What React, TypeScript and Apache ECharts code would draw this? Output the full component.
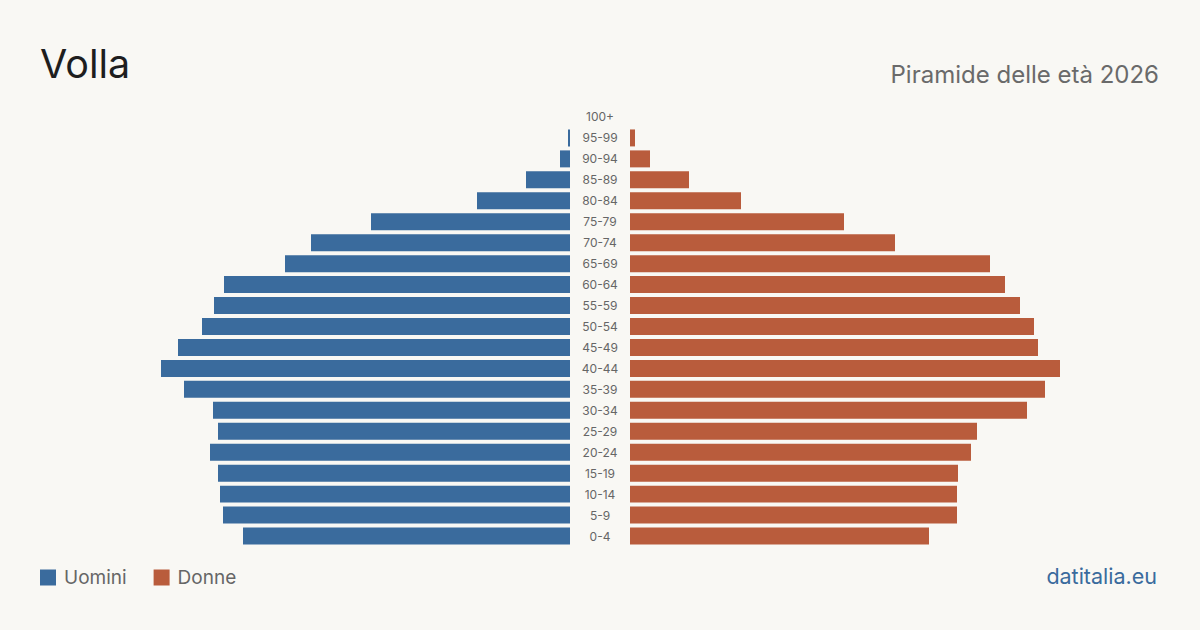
import React, { useEffect, useRef } from "react";
import * as echarts from "echarts";

// Age groups, oldest first (top of the pyramid)
const ageGroups = [
  "100+", "95-99", "90-94", "85-89", "80-84", "75-79", "70-74", "65-69",
  "60-64", "55-59", "50-54", "45-49", "40-44", "35-39", "30-34", "25-29",
  "20-24", "15-19", "10-14", "5-9", "0-4",
];

// Residents by age group
const uomini = [
  0, 4, 20, 88, 186, 398, 518, 570, 692, 712, 736, 784, 818, 772, 714, 704,
  720, 704, 700, 694, 654,
];
const donne = [
  0, 10, 40, 118, 222, 428, 530, 720, 750, 780, 808, 816, 860, 830, 794, 694,
  682, 656, 654, 654, 598,
];

const BLUE = "#3a6b9d";
const ORANGE = "#b95c3c";
const BG = "#f9f8f4";
const FONT = "Inter, 'Noto Sans', sans-serif";

const maxVal = Math.max(...uomini, ...donne);

export default function App() {
  const ref = useRef<HTMLDivElement>(null);

  useEffect(() => {
    if (!ref.current) return;
    const chart = echarts.init(ref.current, undefined, { renderer: "svg" });
    const gridTop = 106.5;
    const gridHeight = 440;
    chart.setOption({
      animation: false,
      backgroundColor: BG,
      textStyle: { fontFamily: FONT },
      legend: {
        left: 40,
        top: 568,
        padding: 0,
        icon: "rect",
        itemWidth: 16,
        itemHeight: 16,
        itemGap: 27,
        textStyle: { color: "#666", fontSize: 19, fontFamily: FONT, padding: [0, 0, 0, 3] },
        data: ["Uomini", "Donne"],
      },
      grid: [
        { left: 570 - 430, width: 430, top: gridTop, height: gridHeight },
        { left: 630, width: 430, top: gridTop, height: gridHeight },
      ],
      xAxis: [
        { type: "value", gridIndex: 0, min: 0, max: maxVal, inverse: true, show: false },
        { type: "value", gridIndex: 1, min: 0, max: maxVal, show: false },
      ],
      yAxis: [
        {
          type: "category",
          gridIndex: 0,
          data: ageGroups,
          inverse: true,
          position: "right",
          axisLine: { show: false },
          axisTick: { show: false },
          axisLabel: { show: false },
        },
        {
          type: "category",
          gridIndex: 1,
          data: ageGroups,
          inverse: true,
          position: "left",
          axisLine: { show: false },
          axisTick: { show: false },
          axisLabel: {
            show: true,
            align: "center",
            margin: 30,
            color: "#666",
            fontSize: 12,
            fontFamily: FONT,
          },
        },
      ],
      series: [
        {
          name: "Uomini",
          type: "bar",
          xAxisIndex: 0,
          yAxisIndex: 0,
          data: uomini,
          barCategoryGap: "19%",
          itemStyle: { color: BLUE },
        },
        {
          name: "Donne",
          type: "bar",
          xAxisIndex: 1,
          yAxisIndex: 1,
          data: donne,
          barCategoryGap: "19%",
          itemStyle: { color: ORANGE },
        },
      ],
      graphic: [
        {
          type: "text",
          left: 40,
          top: 44,
          style: { text: "Volla", fontSize: 39.5, fill: "#1e1e1e", fontFamily: FONT },
        },
        {
          type: "text",
          right: 41,
          top: 62,
          style: { text: "Piramide delle età 2026", fontSize: 24, fill: "#6a6a6a", fontFamily: FONT },
        },
        {
          type: "text",
          right: 43,
          top: 565,
          style: { text: "datitalia.eu", fontSize: 21.5, fill: "#3a6b9d", fontFamily: FONT },
        },
      ],
    });
    return () => chart.dispose();
  }, []);

  return <div ref={ref} style={{ width: 1200, height: 630, position: "absolute", left: 0, top: 0 }} />;
}
